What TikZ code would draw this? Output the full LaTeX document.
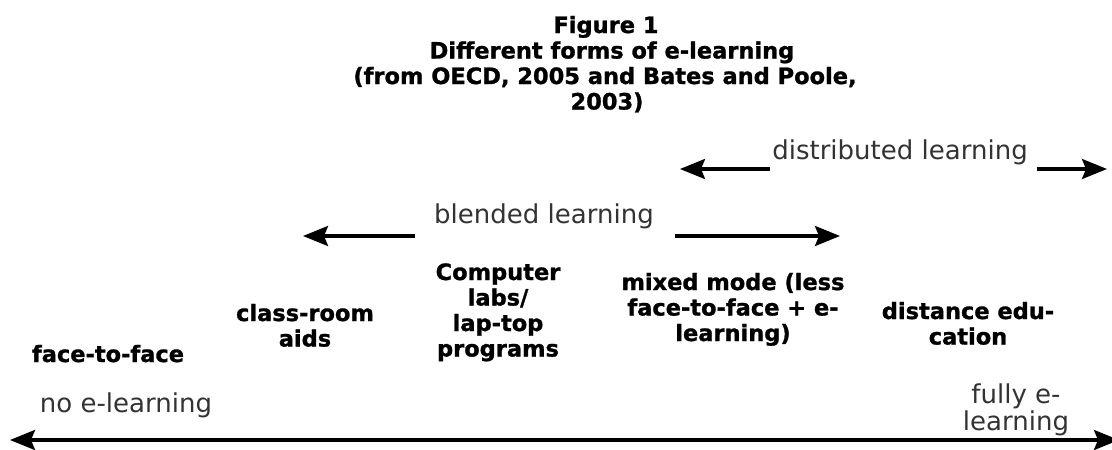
\documentclass[tikz,border=0pt]{standalone}
\usepackage{fontspec}
\setmainfont{DejaVu Sans}[BoldFeatures={FakeBold=1.2}]
\usetikzlibrary{arrows.meta}
\definecolor{txtgray}{HTML}{333333}
\newcommand{\mystack}[1]{\begin{tabular}[t]{@{}c@{}}#1\end{tabular}}
\tikzset{
  titlelbl/.style={inner sep=0pt, anchor=base, font=\fontsize{22.5}{25.5}\selectfont\bfseries},
  boldlbl/.style={inner sep=0pt, anchor=base, font=\fontsize{22.5}{25.5}\selectfont\bfseries},
  plainlbl/.style={inner sep=0pt, anchor=base, text=txtgray, font=\fontsize{26}{25}\selectfont},
  headtip/.tip={Stealth[length=25pt,width=20pt,inset=4pt]},
  arr/.style={line width=3.2pt, -headtip},
  biarr/.style={line width=3.2pt, headtip-headtip},
}
\begin{document}
\begin{tikzpicture}[x=1pt,y=-1pt]
\useasboundingbox (0,0) rectangle (1112,450);
\fill[white] (0,0) rectangle (1112,450);
% title
\node[titlelbl] (t1) at (606,33) {Figure 1};
\node[titlelbl] (t2) at (612,58.5) {Different forms of e-learning};
\node[titlelbl] (t3) at (605,84) {(from OECD, 2005 and Bates and Poole,};
\node[titlelbl] (t4) at (607,109.5) {2003)};
% range labels
\node[plainlbl] (dist) at (900,159) {distributed learning};
\node[plainlbl] (blend) at (544,223) {blended learning};
% forms
\node[boldlbl] (f2f) at (108,362) {face-to-face};
\node[boldlbl] (aids) at (305,321) {\mystack{class-room\\aids}};
\node[boldlbl] (labs) at (498,280) {\mystack{Computer\\labs/\\lap-top\\programs}};
\node[boldlbl] (mixed) at (733,290) {\mystack{mixed mode (less\\face-to-face + e-\\learning)}};
\node[boldlbl] (disted) at (968,319) {\mystack{distance edu-\\cation}};
% ends
\node[plainlbl] (none) at (126,412) {no e-learning};
\node[plainlbl] (full) at (1016,403) {\mystack{fully e-\\learning}};
% arrows
\coordinate (dL) at (680,169); \coordinate (dLe) at (770,169);
\coordinate (dRs) at (1037,169); \coordinate (dR) at (1107,169);
\coordinate (bL) at (303,236); \coordinate (bLe) at (415,236);
\coordinate (bRs) at (675,236); \coordinate (bR) at (840,236);
\coordinate (axL) at (10,440); \coordinate (axR) at (1119,440);
\draw[arr] (dLe) -- (dL);
\draw[arr] (dRs) -- (dR);
\draw[arr] (bLe) -- (bL);
\draw[arr] (bRs) -- (bR);
\draw[biarr] (axL) -- (axR);
\end{tikzpicture}
\end{document}
